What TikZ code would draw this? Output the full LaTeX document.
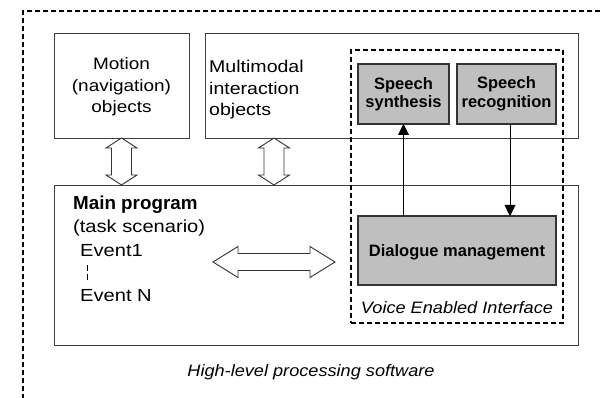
\documentclass[tikz,border=0pt]{standalone}
\usepackage{fontspec}
\setmainfont{Liberation Sans}
\newfontfamily\regfont{Liberation Sans}[FakeStretch=1.15]
\newfontfamily\itfont{Liberation Sans}[FakeStretch=1.1]
\usetikzlibrary{arrows.meta,calc}
\begin{document}
\begin{tikzpicture}[x=1pt,y=1pt,
  box/.style={draw=black!75, line width=0.9pt, inner sep=0, outer sep=0},
  graybox/.style={draw=black!80, fill=black!25, line width=1.1pt, inner sep=0, outer sep=0},
  dashframe/.style={draw=black, line width=1.3pt, dash pattern=on 5pt off 3pt},
  txt/.style={inner sep=0, font=\regfont\fontsize{16.5}{21.5}\selectfont},
  mtxt/.style={inner sep=0, font=\regfont\fontsize{17.5}{21.5}\selectfont},
  btxt/.style={inner sep=0, font=\bfseries\fontsize{16.5}{18.5}\selectfont, align=center},
  itxt/.style={inner sep=0, font=\itfont\itshape\fontsize{16.5}{20}\selectfont},
  hollow/.style={draw=black!80, fill=white, line width=0.9pt, line join=miter},
  sig/.style={draw=black, line width=0.9pt, -{Triangle[length=11pt,width=11pt]}},
  evdash/.style={draw=black, line width=0.8pt, dash pattern=on 6pt off 3pt}
]
\useasboundingbox (0,0) rectangle (600,-398);
% outer frame (only top and left edges visible)
\draw[dashframe] (600,-11) -- (23,-11) -- (23,-398);

% boxes
\node[box, minimum width=135, minimum height=105] (motion) at (121.5,-85.5) {};
\node[box, minimum width=373, minimum height=105] (multi) at (391.5,-85.5) {};
\node[box, minimum width=524, minimum height=160] (main) at (316,-265) {};
\node[dashframe, minimum width=212, minimum height=273, inner sep=0, outer sep=0] (voice) at (457,-186.5) {};
\node[graybox, minimum width=91, minimum height=60] (syn) at (403.5,-94) {};
\node[graybox, minimum width=99, minimum height=60] (rec) at (506.5,-94) {};
\node[graybox, minimum width=198, minimum height=69] (dlg) at (457,-250.5) {};

% texts
\node[txt, align=center] (motiontxt) at ([yshift=-1.5]motion.center) {Motion\\(navigation)\\objects};
\node[txt, align=left, anchor=north west, font=\regfont\fontsize{17}{21.5}\selectfont] (multitxt) at (209,-60) {Multimodal\\interaction\\objects};
\node[btxt] (syntxt) at (syn.center) {Speech\\synthesis};
\node[btxt] (rectxt) at (rec.center) {Speech\\recognition};
\node[btxt] (dlgtxt) at ([yshift=-1.5]dlg.center) {Dialogue management};
\node[btxt, anchor=base west, font=\bfseries\fontsize{18.8}{20}\selectfont] (maintxt) at (73,-210) {Main program};
\node[mtxt, anchor=base west] (tasktxt) at (73,-233) {(task scenario)};
\node[mtxt, anchor=base west] (ev1) at (80,-256.7) {Event1};
\node[mtxt, anchor=base west] (evn) at (80,-301.7) {Event N};
\node[itxt, anchor=base] (voicetxt) at (457,-313.3) {Voice Enabled Interface};
\node[itxt, anchor=base] (hltxt) at (311,-376.7) {High-level processing software};

% dashed link between events
\draw[evdash] ([xshift=7pt,yshift=-8pt]ev1.south west) -- ([xshift=7pt,yshift=7pt]evn.north west);

% signal arrows
\draw[sig] (dlg.north -| syn.south) -- (syn.south);
\draw[sig] ([xshift=3.5pt]rec.south) -- ([xshift=3.5pt]rec.south |- dlg.north);

% hollow double arrows (vertical)
\coordinate (va1) at (motion.south);
\coordinate (vb1) at (motion.south |- main.north);
\draw[hollow] (va1) -- ++(15.5,-10) -- ++(-5.5,0) |- ([xshift=15.5pt,yshift=10pt]vb1) -- (vb1)
  -- ++(-15.5,10) -- ++(5.5,0) |- ([xshift=-15.5pt,yshift=-10pt]va1) -- cycle;
\coordinate (va2) at (274,-138);
\coordinate (vb2) at (va2 |- main.north);
\draw[hollow] (va2) -- ++(15.5,-10) -- ++(-5.5,0) |- ([xshift=15.5pt,yshift=10pt]vb2) -- (vb2)
  -- ++(-15.5,10) -- ++(5.5,0) |- ([xshift=-15.5pt,yshift=-10pt]va2) -- cycle;

% hollow double arrow (horizontal)
\coordinate (hl) at (213,-262);
\coordinate (hr) at (335,-262);
\draw[hollow] (hl) -- ++(25,15.5) -- ++(0,-7) -| ([xshift=-25pt,yshift=15.5pt]hr) -- (hr)
  -- ++(-25,-15.5) -- ++(0,7) -| ([xshift=25pt,yshift=-15.5pt]hl) -- cycle;
\end{tikzpicture}
\end{document}
